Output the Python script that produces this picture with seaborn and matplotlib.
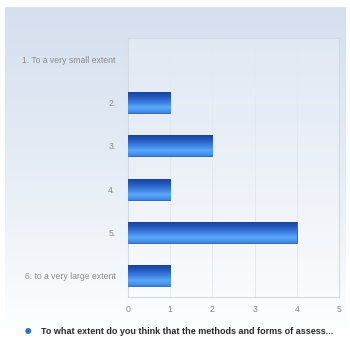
import numpy as np
import pandas as pd
import matplotlib
matplotlib.use("Agg")
import matplotlib.pyplot as plt
from matplotlib.colors import LinearSegmentedColormap
import seaborn as sns

categories = ["1. To a very small extent", "2.", "3.", "4.", "5.", "6. to a very large extent"]
counts = [0, 1, 2, 1, 4, 1]
xticks = [0, 1, 2, 3, 4, 5]
series_name = "To what extent do you think that the methods and forms of assess..."

sns.set_style("white")
plt.rcParams['font.family'] = ['Liberation Sans', 'DejaVu Sans']

fig = plt.figure(figsize=(3.5, 3.38), dpi=100)
fig.patch.set_facecolor("white")

# background panel with a vertical gradient
bg = fig.add_axes([0.014, 0.0, 0.972, 0.98], zorder=-10)
grad = np.linspace(0, 1, 256).reshape(-1, 1)
bg_cmap = LinearSegmentedColormap.from_list("bg", ["#d5dfee", "#e6edf6", "#ffffff"])
bg.imshow(grad, aspect="auto", cmap=bg_cmap, extent=[0, 1, 0, 1], origin="upper")
bg.set_axis_off()

ax = fig.add_axes([128 / 350, 1 - 297 / 338, 211 / 350, 259 / 338])
ax.set_facecolor((1, 1, 1, 0.25))

df = pd.DataFrame({"answer": categories, "count": counts})
sns.barplot(data=df, x="count", y="answer", orient="h", width=0.49,
            color="#2a6ad0", ax=ax, zorder=3)

# gradient fill for each bar, clipped to the bar
bar_cmap = LinearSegmentedColormap.from_list(
    "bar", ["#16409a", "#2356b8", "#3a7ee0", "#5aa8f8", "#3a86e6"])
for p in ax.patches:
    w = p.get_width()
    if w <= 0:
        p.set_visible(False)
        continue
    y0 = p.get_y()
    h = p.get_height()
    im = ax.imshow(grad, aspect="auto", cmap=bar_cmap, zorder=4,
                   extent=[0, w, y0 + h, y0], origin="upper")
    im.set_clip_path(p)
    p.set_edgecolor("#1d4a9e")
    p.set_linewidth(0.5)

ax.set_xlim(0, 5)
ax.set_ylim(len(categories) - 0.5, -0.5)
ax.set_xticks(xticks)
ax.set_xticklabels([str(t) for t in xticks])
ax.xaxis.grid(True, color="#e4e8ef", linewidth=0.7, zorder=0)
ax.set_axisbelow(True)
ax.set_xlabel("")
ax.set_ylabel("")
ax.tick_params(axis="both", length=0, labelsize=6.2, colors="#8a8a8a", pad=9)
ax.tick_params(axis="x", pad=6)
for s in ax.spines.values():
    s.set_color("#d4dae3")
    s.set_linewidth(0.8)

# legend
fig.text(28 / 350, 1 - 331 / 338, "\u25cf", color="#2f6fd6", fontsize=10,
         ha="center", va="center")
fig.text(41 / 350, 1 - 331 / 338, series_name, color="#2a2a2a", fontsize=6.5,
         fontweight="bold", ha="left", va="center")

fig.savefig("out.png", dpi=100)
